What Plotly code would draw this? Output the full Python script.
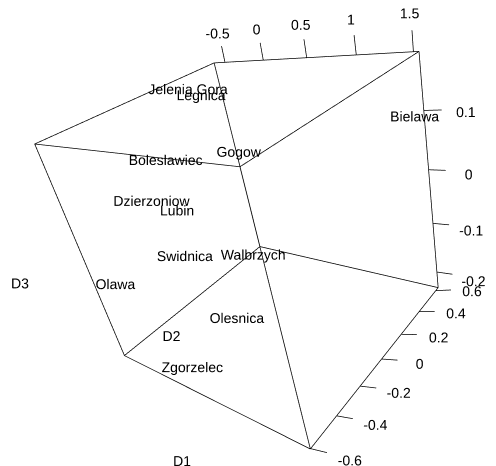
import numpy as np
import plotly.graph_objects as go

W, H = 496, 466

# ---------------- data ----------------
cities = ["Jelenia Gora", "Legnica", "Bielawa", "Boleslawiec", "Gogow", "Dzierzoniow", "Lubin",
          "Swidnica", "Walbrzych", "Olawa", "Olesnica", "Zgorzelec"]
d1 = [-0.425, -0.246, 1.506, 0.141, 0.393, -0.001, 0.118, 0.082, 0.432, -0.461, 0.590, 0.270]
d2 = [0.266, 0.253, 0.586, -0.260, 0.059, -0.348, -0.276, -0.299, -0.044, -0.545, -0.330, -0.546]
d3 = [0.178, 0.166, 0.096, 0.126, 0.095, 0.067, 0.041, -0.042, -0.078, -0.073, -0.132, -0.206]

d1_range = [-0.653, 1.545]
d2_range = [-0.602, 0.63]
d3_range = [-0.234, 0.19]

d1_ticks = [-0.5, 0, 0.5, 1, 1.5]
d2_ticks = [0.6, 0.4, 0.2, 0, -0.2, -0.4, -0.6]
d3_ticks = [0.1, 0, -0.1, -0.2]
axis_titles = ["D1", "D2", "D3"]

# ---------------- styling / geometry (fractions of each axis range) ----------------
lo = np.array([d1_range[0], d2_range[0], d3_range[0]])
rg = np.array([d1_range[1] - d1_range[0], d2_range[1] - d2_range[0], d3_range[1] - d3_range[0]])
aspect = np.array([1.0, 0.954, 0.992])
K = 2.0  # scene range padding so tick labels/titles are not clipped

tick1, lab1 = (0.003, 0.072), (-0.003, 0.129)
tick3, lab3 = (0.063, 0.008), (0.155, -0.009)
tick2, lab2 = (0.067, 0.022), (0.153, 0.040)
title_pos = [(0.5, -0.190, -0.176), (-0.377, 0.5, -0.393), (-0.129, -0.230, 0.5)]


def nz(v, k):
    return (np.array(v, float) - lo[k]) / rg[k]


def tod(S):
    return lo + np.atleast_2d(np.array(S, float)) * rg


n1, n2, n3 = nz(d1_ticks, 0), nz(d2_ticks, 1), nz(d3_ticks, 2)


def S1(a):
    return np.stack([n1, np.full(len(n1), 1 + a[0]), np.full(len(n1), 1 + a[1])], 1)


def S3(a):
    return np.stack([np.full(len(n3), 1 + a[0]), np.full(len(n3), 1 + a[1]), n3], 1)


def S2(a):
    return np.stack([np.full(len(n2), 1 + a[0]), n2, np.full(len(n2), a[1])], 1)


def segs(A, B):
    xs, ys, zs = [], [], []
    for a, b in zip(A, B):
        xs += [a[0], b[0], None]
        ys += [a[1], b[1], None]
        zs += [a[2], b[2], None]
    return xs, ys, zs


edges = []
for a in (0, 1):
    for b in (0, 1):
        edges += [([0, a, b], [1, a, b]), ([a, 0, b], [a, 1, b]), ([a, b, 0], [a, b, 1])]
EA = tod([e[0] for e in edges])
EB = tod([e[1] for e in edges])
TA = np.vstack([tod(S1([0, 0])), tod(S3([0, 0])), tod(S2([0, 0]))])
TB = np.vstack([tod(S1(tick1)), tod(S3(tick3)), tod(S2(tick2))])
bx, by, bz = segs(np.vstack([EA, TA]), np.vstack([EB, TB]))

L = np.vstack([tod(S1(lab1)), tod(S3(lab3)), tod(S2(lab2))])
ltxt = [("%g" % v) for v in d1_ticks + d3_ticks + d2_ticks]
TT = tod(title_pos)

font = dict(family="Liberation Sans", size=14, color="black")
traces = [
    go.Scatter3d(x=bx, y=by, z=bz, mode="lines", line=dict(color="black", width=1.5),
                 connectgaps=False, hoverinfo="skip", showlegend=False),
    go.Scatter3d(x=d1, y=d2, z=d3, mode="text", text=cities, textfont=font,
                 textposition="middle center", hoverinfo="skip", showlegend=False),
    go.Scatter3d(x=L[:, 0], y=L[:, 1], z=L[:, 2], mode="text", text=ltxt, textfont=font,
                 textposition="middle center", hoverinfo="skip", showlegend=False),
    go.Scatter3d(x=TT[:, 0], y=TT[:, 1], z=TT[:, 2], mode="text", text=axis_titles, textfont=font,
                 textposition="middle center", hoverinfo="skip", showlegend=False),
]
fig = go.Figure(traces)


def exp_range(k):
    c = lo[k] + rg[k] / 2
    h = rg[k] / 2 * K
    return [c - h, c + h]


ax = dict(visible=False, showspikes=False)
fig.update_layout(
    width=W, height=H, margin=dict(l=0, r=0, t=0, b=0), paper_bgcolor="white",
    showlegend=False, hovermode=False,
    scene=dict(
        xaxis=dict(ax, range=exp_range(0)),
        yaxis=dict(ax, range=exp_range(1)),
        zaxis=dict(ax, range=exp_range(2)),
        aspectmode="manual",
        aspectratio=dict(x=K * aspect[0], y=K * aspect[1], z=K * aspect[2]),
        domain=dict(x=[0, 1], y=[0, 1]),
        bgcolor="white",
        camera=dict(eye=dict(x=1.422, y=-1.356, z=0.976),
                    center=dict(x=-0.010, y=-0.035, z=-0.032),
                    up=dict(x=-0.158, y=0.485, z=0.860)),
    ),
)
fig.write_html("out.html")
